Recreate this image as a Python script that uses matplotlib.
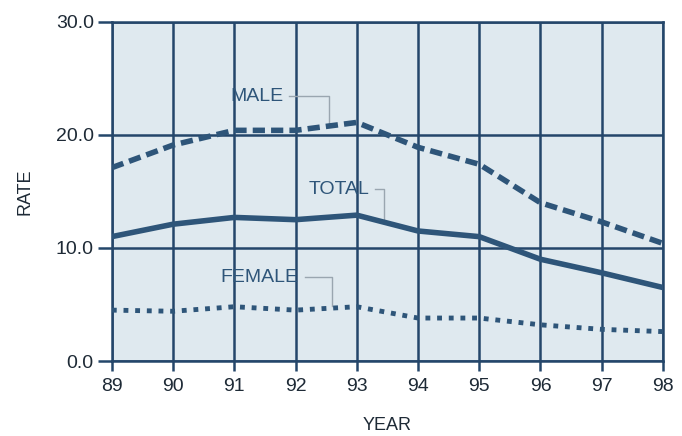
# rate by year, male / female / total
import matplotlib.pyplot as plt

plt.rcParams['font.family'] = ['Liberation Sans', 'DejaVu Sans']

years = [89, 90, 91, 92, 93, 94, 95, 96, 97, 98]
male = [17.1, 19.1, 20.4, 20.4, 21.1, 18.9, 17.4, 14.0, 12.3, 10.4]
total = [11.0, 12.1, 12.7, 12.5, 12.9, 11.5, 11.0, 9.0, 7.8, 6.5]
female = [4.5, 4.4, 4.8, 4.5, 4.8, 3.8, 3.8, 3.2, 2.8, 2.6]
y_ticks = [0, 10, 20, 30]

navy = "#24466a"
line_col = "#2e5579"
leader = "#9aa6b0"
txt = "#1e2a36"

fig = plt.figure(figsize=(6.82, 4.36), dpi=100)
ax = fig.add_axes([0.164, 0.172, 0.808, 0.778])
ax.set_facecolor("#dfe9ef")

ax.plot(years, male, color=line_col, lw=4, linestyle=(0, (2.2, 1.1)), solid_capstyle="butt", zorder=3)
ax.plot(years, total, color=line_col, lw=4, zorder=3)
ax.plot(years, female, color=line_col, lw=3.5, linestyle=(0, (1, 1.4)), zorder=3)

ax.set_xlim(89, 98)
ax.set_ylim(0, 30)
ax.set_xticks(years)
ax.set_yticks(y_ticks)
ax.set_yticklabels([f"{v:.1f}" for v in y_ticks])
ax.grid(True, color=navy, lw=1.8, zorder=1)
ax.set_axisbelow(True)
for s in ax.spines.values():
    s.set_color(navy)
    s.set_linewidth(1.8)
ax.tick_params(axis="both", colors=navy, width=1.8, labelsize=14, labelcolor=txt)
ax.tick_params(axis="y", length=10, pad=3)
ax.tick_params(axis="x", length=7, pad=5)

ax.set_xlabel("YEAR", fontsize=13, color=txt, labelpad=16)
ax.set_ylabel("RATE", fontsize=13, color=txt, labelpad=16)

# series labels with leader lines
def label(text, tx, ty, lx, ly):
    ax.text(tx, ty, text, fontsize=14, color=line_col, ha="right", va="center", zorder=4)
    ax.plot([tx + 0.1, lx, lx], [ty, ty, ly], color=leader, lw=1, zorder=2)

label("MALE", 91.8, 23.4, 92.55, 21.0)
label("TOTAL", 93.2, 15.2, 93.45, 12.6)
label("FEMALE", 92.05, 7.4, 92.6, 4.9)

plt.savefig("out.png", dpi=100)
